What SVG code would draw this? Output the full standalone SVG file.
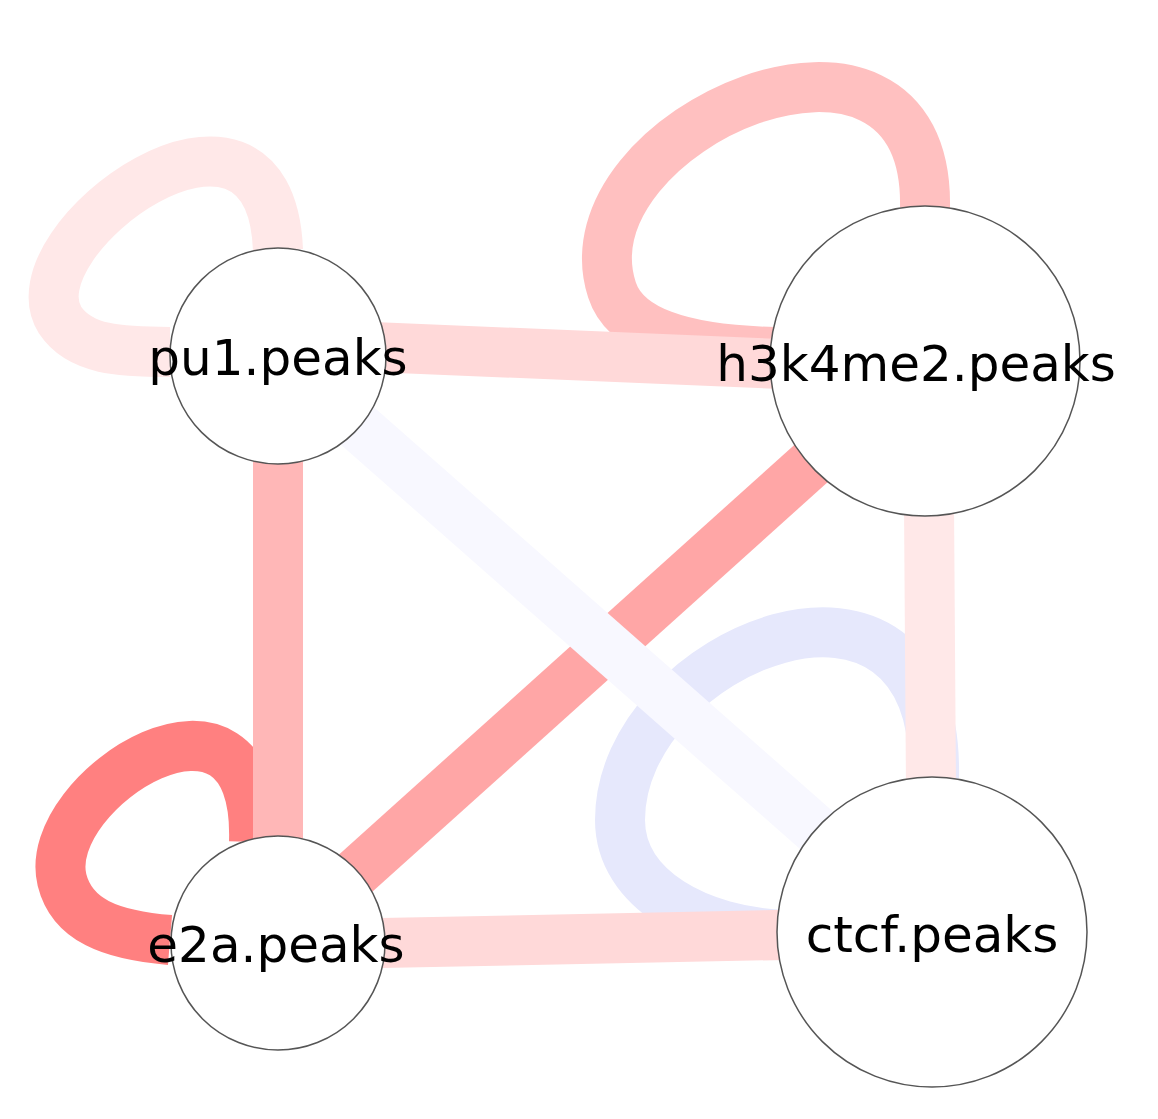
<svg xmlns="http://www.w3.org/2000/svg" width="1158" height="1119" viewBox="0 0 1158 1119">
<style>
.e{fill:none;stroke-width:50}
.n circle{fill:#fff;stroke:#555;stroke-width:1.5}
.n text{font-family:"DejaVu Sans",sans-serif;font-size:50px;fill:#000;text-anchor:middle}
</style>
<rect width="1158" height="1119" fill="#fff"/>
<g id="connectors">
<path class="e" stroke="#ffe8e8" d="M278 250 C270 50 10 240 60 320 C80 350 120 352 170 352"/>
<path class="e" stroke="#ffc0c0" d="M925 208 C930 -30 560 130 612 290 C625 330 680 350 775 352"/>
<path class="e" stroke="#ff8080" d="M254 842 C260 650 40 790 62 880 C72 920 110 935 170 940"/>
<path class="e" stroke="#e6e8fc" d="M934 778 C940 520 620 650 620 820 C620 890 700 932 785 935"/>
<path class="e" stroke="#ffd9d9" d="M278 343 L925 370"/>
<path class="e" stroke="#ffb7b7" d="M278 356 L278 943"/>
<path class="e" stroke="#ffe8e8" d="M928 361 L932 932"/>
<path class="e" stroke="#ffd9d9" d="M278 945 L932 932"/>
<path class="e" stroke="#ffa6a6" d="M278 943 L925 361"/>
<path class="e" stroke="#f8f8ff" d="M278 356 L932 932"/>
</g>
<g id="pu1" class="n"><circle cx="278" cy="356" r="108"/><text x="278" y="375">pu1.peaks</text></g>
<g id="h3k4me2" class="n"><circle cx="925" cy="361" r="155"/><text x="916" y="381">h3k4me2.peaks</text></g>
<g id="e2a" class="n"><circle cx="278" cy="943" r="107"/><text x="276" y="962">e2a.peaks</text></g>
<g id="ctcf" class="n"><circle cx="932" cy="932" r="155"/><text x="932" y="952">ctcf.peaks</text></g>
</svg>
